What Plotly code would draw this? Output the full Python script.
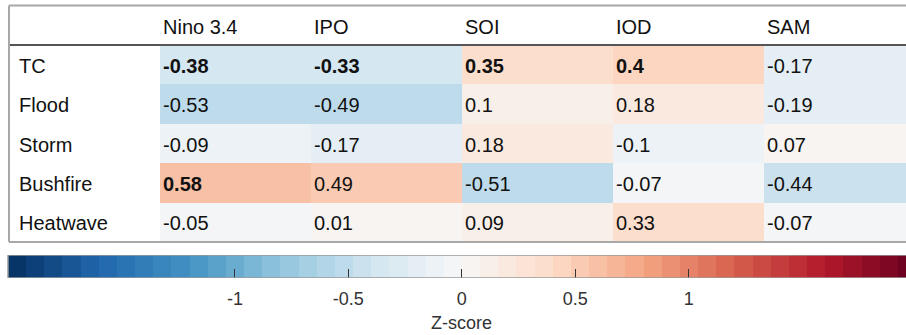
import plotly.graph_objects as go

# Correlation of hazard Z-scores with climate drivers
hazards = ["TC", "Flood", "Storm", "Bushfire", "Heatwave"]
drivers = ["Nino 3.4", "IPO", "SOI", "IOD", "SAM"]

tc = [-0.38, -0.33, 0.35, 0.4, -0.17]
flood = [-0.53, -0.49, 0.1, 0.18, -0.19]
storm = [-0.09, -0.17, 0.18, -0.1, 0.07]
bushfire = [0.58, 0.49, -0.51, -0.07, -0.44]
heatwave = [-0.05, 0.01, 0.09, 0.33, -0.07]

# significant correlations are printed in bold
sig_tc = [True, True, True, True, False]
sig_flood = [False, False, False, False, False]
sig_storm = [False, False, False, False, False]
sig_bushfire = [True, False, False, False, False]
sig_heatwave = [False, False, False, False, False]

cbar_ticks = [-1, -0.5, 0, 0.5, 1]
cbar_ticktext = ["-1", "-0.5", "0", "0.5", "1"]
z_min, z_max, n_bins = -2.0, 2.0, 50

values = [tc, flood, storm, bushfire, heatwave]
sig = [sig_tc, sig_flood, sig_storm, sig_bushfire, sig_heatwave]

# ColorBrewer RdBu (11 classes), blue for negative, red for positive
rdbu = [(5, 48, 97), (33, 102, 172), (67, 147, 195), (146, 197, 222),
        (209, 229, 240), (247, 247, 247), (253, 219, 199), (244, 165, 130),
        (214, 96, 77), (178, 24, 43), (103, 0, 31)]


def interp(t):
    t = min(max(t, 0.0), 1.0)
    pos = t * (len(rdbu) - 1)
    i = min(int(pos), len(rdbu) - 2)
    f = pos - i
    a, b = rdbu[i], rdbu[i + 1]
    return "rgb(%d,%d,%d)" % tuple(round(a[k] + (b[k] - a[k]) * f) for k in range(3))


# stepped colour scale: n_bins flat bands
colorscale = []
for k in range(n_bins):
    c = interp((k + 0.5) / n_bins)
    colorscale.append([k / n_bins, c])
    colorscale.append([(k + 1) / n_bins, c])

FONT = "Liberation Sans, Arial, Helvetica, sans-serif"
W, H = 906, 335

# table grid: cell width / height in px, position of first value cell
CW, RH = 151.0, 39.4
X0, Y0 = 160.0, 45.0

fig = go.Figure()

fig.add_trace(go.Heatmap(
    z=values, x=list(range(len(drivers))), y=list(range(len(hazards))),
    zmin=z_min, zmax=z_max, colorscale=colorscale, showscale=False,
    hoverinfo="skip", xaxis="x", yaxis="y",
))

# colour bar drawn as a one-row heatmap on its own axis
step = (z_max - z_min) / n_bins
edges = [z_min + k * step for k in range(n_bins + 1)]
centers = [z_min + (k + 0.5) * step for k in range(n_bins)]
fig.add_trace(go.Heatmap(
    z=[centers], x=edges, y=[0, 1],
    zmin=z_min, zmax=z_max, colorscale=colorscale, showscale=False,
    hoverinfo="skip", xaxis="x2", yaxis="y2",
))

annotations = []
# header row
for j, d in enumerate(drivers):
    annotations.append(dict(x=j - 0.5, y=-1, xref="x", yref="y", text=d,
                            xanchor="left", yanchor="middle", xshift=1, yshift=-2,
                            showarrow=False, font=dict(family=FONT, size=20, color="#111")))
# row labels and values
for i, h in enumerate(hazards):
    annotations.append(dict(x=-1.5, y=i, xref="x", yref="y", text=h,
                            xanchor="left", yanchor="middle", xshift=8, yshift=-1,
                            showarrow=False, font=dict(family=FONT, size=20, color="#111")))
    for j in range(len(drivers)):
        v = values[i][j]
        t = f"{v:g}"
        if sig[i][j]:
            t = "<b>" + t + "</b>"
        annotations.append(dict(x=j - 0.5, y=i, xref="x", yref="y", text=t,
                                xanchor="left", yanchor="middle", xshift=1, yshift=-1,
                                showarrow=False, font=dict(family=FONT, size=20, color="#111")))

annotations.append(dict(x=0, y=1 - 323 / H, xref="x2", yref="paper", text="Z-score",
                        xanchor="center", yanchor="middle", showarrow=False,
                        font=dict(family=FONT, size=18, color="#333")))

light = "#a8a8a8"
shapes = [
    dict(type="line", xref="x", yref="y", x0=-1.5, x1=4.6, y0=-1.5, y1=-1.5,
         line=dict(color=light, width=2)),
    dict(type="line", xref="x", yref="y", x0=-1.5, x1=4.6, y0=-0.5, y1=-0.5,
         line=dict(color="#555555", width=2)),
    dict(type="line", xref="x", yref="y", x0=-1.5, x1=4.6, y0=4.5, y1=4.5,
         line=dict(color=light, width=2)),
    dict(type="line", xref="x", yref="y", x0=-1.5, x1=-1.5, y0=-1.5, y1=4.5,
         line=dict(color=light, width=2)),
    dict(type="rect", xref="x2", yref="y2", x0=z_min, x1=z_max, y0=0, y1=1,
         line=dict(color="#9a9a9a", width=1.5)),
]

px_per_unit = 226.9
cb_left = 8.0
cb_top, cb_bottom = 255.0, 278.0

fig.update_layout(
    width=W, height=H,
    margin=dict(l=0, r=0, t=0, b=0),
    paper_bgcolor="white", plot_bgcolor="rgba(0,0,0,0)",
    showlegend=False,
    xaxis=dict(domain=[0, 1], range=[-0.5 - X0 / CW, -0.5 + (W - X0) / CW],
               visible=False, fixedrange=True),
    yaxis=dict(domain=[0, 1], range=[-0.5 + (H - Y0) / RH, -0.5 - Y0 / RH],
               visible=False, fixedrange=True),
    xaxis2=dict(domain=[0, 1], anchor="y2",
                range=[z_min - cb_left / px_per_unit, z_min + (W - cb_left) / px_per_unit],
                tickvals=cbar_ticks, ticktext=cbar_ticktext,
                ticks="inside", ticklen=9, tickwidth=1, tickcolor="#333",
                showgrid=False, zeroline=False, showline=False,
                ticklabelstandoff=8,
                tickfont=dict(family=FONT, size=18, color="#333"), fixedrange=True),
    yaxis2=dict(domain=[1 - cb_bottom / H, 1 - cb_top / H], anchor="x2",
                range=[0, 1], visible=False, fixedrange=True),
    annotations=annotations,
    shapes=shapes,
)

fig.write_html("out.html")
